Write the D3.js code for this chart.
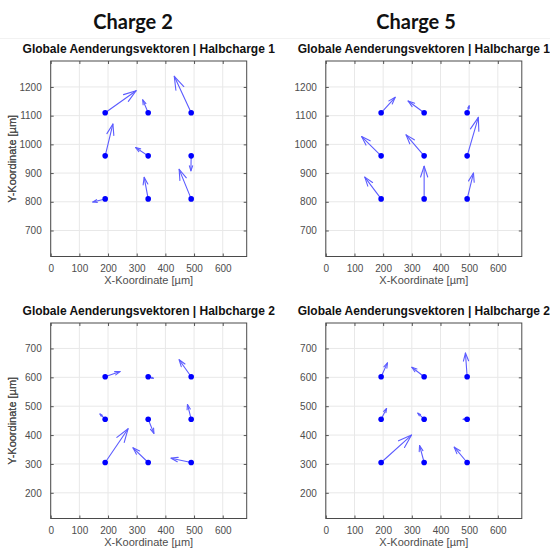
<!DOCTYPE html>
<html>
<head>
<meta charset="utf-8">
<script src="https://cdn.jsdelivr.net/npm/d3@7"></script>
<style>
  body { margin: 0; background: #fff; }
  svg { display: block; }
</style>
</head>
<body>
<div id="viz"></div>
<script>
// Spalten / Zeilen der Messpunkte
const colsCharge2 = [190, 340, 490];
const colsCharge5 = [193, 343, 493];
const rowsHalb1 = [810, 960, 1110];
const rowsHalb2 = [305, 455, 602];

// Vektoren, Reihenfolge: untere Zeile links->rechts, mittlere, obere
const c2h1U = [-43, -14, -42, 27, -44, -1, 108, -19, -59];
const c2h1V = [-11, 75, 103, 111, 29, -52, 77, 45, 127];
const c5h1U = [-57, 0, 22, -68, -63, 39, 49, -56, 7];
const c5h1V = [76, 114, 90, 67, 73, 134, 54, 41, 24];
const c2h2U = [80, -53, -70, -18, 20, -13, 52, 18, -42];
const c2h2V = [117, 51, 15, 18, -49, 51, 18, -5, 59];
const c5h2U = [106, -16, -45, 19, -22, -14, 22, -43, -6];
const c5h2V = [95, 59, 53, 37, 21, 0, 48, 33, 82];

const xTicks = [0, 100, 200, 300, 400, 500, 600];
const yTicksHalb1 = [700, 800, 900, 1000, 1100, 1200];
const yTicksHalb2 = [200, 300, 400, 500, 600, 700];

const chargeTitles = ['Charge 2', 'Charge 5'];
const subTitles = ['Globale Aenderungsvektoren | Halbcharge 1', 'Globale Aenderungsvektoren | Halbcharge 2'];
const xLabel = 'X-Koordinate [\u00b5m]';
const yLabel = 'Y-Koordinate [\u00b5m]';

const W = 550, H = 550;
const svg = d3.select('#viz').append('svg').attr('width', W).attr('height', H);

const panels = [
  {left: 50.7, top: 61, cols: colsCharge2, rows: rowsHalb1, u: c2h1U, v: c2h1V, yDom: [609.4, 1290.4], yTicks: yTicksHalb1, title: subTitles[0]},
  {left: 325.8, top: 61, cols: colsCharge5, rows: rowsHalb1, u: c5h1U, v: c5h1V, yDom: [609.4, 1290.4], yTicks: yTicksHalb1, title: subTitles[0]},
  {left: 50.7, top: 323, cols: colsCharge2, rows: rowsHalb2, u: c2h2U, v: c2h2V, yDom: [111, 788.2], yTicks: yTicksHalb2, title: subTitles[1]},
  {left: 325.8, top: 323, cols: colsCharge5, rows: rowsHalb2, u: c5h2U, v: c5h2V, yDom: [111, 788.2], yTicks: yTicksHalb2, title: subTitles[1]}
];
const pw = 196, ph = 195.5;
const font = 'Liberation Sans, Arial, Helvetica, sans-serif';

// Haupttitel
chargeTitles.forEach((t, i) => {
  svg.append('text')
    .attr('x', i === 0 ? 133 : 416)
    .attr('y', 28.5)
    .attr('text-anchor', 'middle')
    .attr('font-family', 'Lato, Open Sans, sans-serif')
    .attr('font-weight', 'bold')
    .attr('font-size', 20)
    .attr('fill', '#111')
    .text(t);
});
svg.append('line').attr('x1', 0).attr('x2', W).attr('y1', 38.5).attr('y2', 38.5)
  .attr('stroke', '#f2f2f2');

panels.forEach(p => drawPanel(p));

function drawPanel(p) {
  const g = svg.append('g').attr('transform', `translate(${p.left},${p.top})`);
  const x = d3.scaleLinear().domain([0, 683.6]).range([0, pw]);
  const y = d3.scaleLinear().domain(p.yDom).range([ph, 0]);

  // Gitter
  g.append('g').selectAll('line').data(xTicks).join('line')
    .attr('x1', d => x(d)).attr('x2', d => x(d)).attr('y1', 0).attr('y2', ph)
    .attr('stroke', '#e8e8e8');
  g.append('g').selectAll('line').data(p.yTicks).join('line')
    .attr('y1', d => y(d)).attr('y2', d => y(d)).attr('x1', 0).attr('x2', pw)
    .attr('stroke', '#e8e8e8');

  // Achsen (Ticks nach innen wie MATLAB)
  const fmt = d3.format('d');
  const ax = g.append('g').attr('transform', `translate(0,${ph})`)
    .call(d3.axisBottom(x).tickValues(xTicks).tickFormat(fmt).tickSize(-3).tickPadding(8).tickSizeOuter(0));
  const ay = g.append('g')
    .call(d3.axisLeft(y).tickValues(p.yTicks).tickFormat(fmt).tickSize(-3).tickPadding(9).tickSizeOuter(0));
  g.append('g').call(d3.axisTop(x).tickValues(xTicks).tickSize(-3).tickFormat('').tickSizeOuter(0));
  g.append('g').attr('transform', `translate(${pw},0)`)
    .call(d3.axisRight(y).tickValues(p.yTicks).tickSize(-3).tickFormat('').tickSizeOuter(0));
  g.selectAll('.domain').remove();
  g.selectAll('.tick line').attr('stroke', '#555');
  [ax, ay].forEach(a => a.selectAll('text')
    .attr('font-family', font).attr('font-size', 10).attr('fill', '#4d4d4d'));

  g.append('rect').attr('width', pw).attr('height', ph)
    .attr('fill', 'none').attr('stroke', '#4a4a4a').attr('stroke-width', 1);

  // Beschriftungen
  g.append('text').attr('x', pw / 2).attr('y', -8.5)
    .attr('text-anchor', 'middle').attr('font-family', font).attr('font-weight', 'bold')
    .attr('font-size', 12).attr('fill', '#111').text(p.title);
  g.append('text').attr('x', pw / 2).attr('y', ph + 25).attr('dominant-baseline', 'middle')
    .attr('text-anchor', 'middle').attr('font-family', font)
    .attr('font-size', 11).attr('fill', '#4d4d4d').text(xLabel);
  g.append('text')
    .attr('transform', `translate(${13.5 - p.left},${ph / 2}) rotate(-90)`)
    .attr('dominant-baseline', 'middle')
    .attr('text-anchor', 'middle').attr('font-family', font)
    .attr('font-size', 11).attr('fill', '#4d4d4d').text(yLabel);

  // Punkte und Vektoren
  const pts = [];
  p.rows.forEach((r, ri) => p.cols.forEach((c, ci) => {
    const k = ri * 3 + ci;
    pts.push({x: c, y: r, u: p.u[k], v: p.v[k]});
  }));

  const alpha = 0.33, beta = 0.33;
  const arrows = g.append('g').attr('stroke', '#5c5cff').attr('stroke-width', 1.1)
    .attr('fill', 'none').attr('stroke-linecap', 'round').attr('stroke-linejoin', 'round');
  pts.forEach(d => {
    const x0 = x(d.x), y0 = y(d.y);
    const x1 = x(d.x + d.u), y1 = y(d.y + d.v);
    const du = x1 - x0, dv = y1 - y0;
    arrows.append('line').attr('x1', x0).attr('y1', y0).attr('x2', x1).attr('y2', y1);
    const h1 = [x1 - alpha * (du + beta * dv), y1 - alpha * (dv - beta * du)];
    const h2 = [x1 - alpha * (du - beta * dv), y1 - alpha * (dv + beta * du)];
    arrows.append('path').attr('d', d3.line()([h1, [x1, y1], h2]));
  });

  g.append('g').selectAll('circle').data(pts).join('circle')
    .attr('cx', d => x(d.x)).attr('cy', d => y(d.y)).attr('r', 2.8)
    .attr('fill', '#0000ff');
}
</script>
</body>
</html>
